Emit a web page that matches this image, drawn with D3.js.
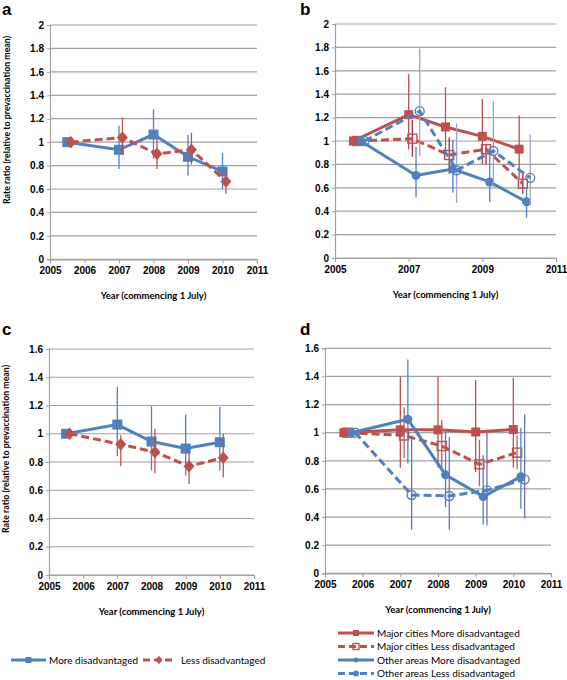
<!DOCTYPE html>
<html><head><meta charset="utf-8">
<script src="https://cdn.jsdelivr.net/npm/d3@7"></script>
<style>
html,body{margin:0;padding:0;background:#fff;}
svg{display:block;font-family:Lato,"Open Sans",sans-serif;}
</style></head>
<body>
<script>
// ---------- DATA ----------
const years = [2005.5, 2007, 2008, 2009, 2010];

// Panel a
const aMore = [1.00, 0.935, 1.065, 0.875, 0.75];
const aMoreLo = [null, 0.77, 0.86, 0.715, 0.60];
const aMoreHi = [null, 1.14, 1.28, 1.06, 0.91];
const aLess = [1.00, 1.04, 0.90, 0.935, 0.665];
const aLessLo = [null, 0.89, 0.77, 0.81, 0.56];
const aLessHi = [null, 1.21, 1.03, 1.08, 0.76];

// Panel b
const bMajMore = [1.00, 1.225, 1.12, 1.04, 0.93];
const bMajMoreLo = [null, 0.93, 0.88, 0.80, 0.68];
const bMajMoreHi = [null, 1.57, 1.46, 1.36, 1.22];
const bMajLess = [1.00, 1.02, 0.88, 0.93, 0.635];
const bMajLessLo = [null, 0.865, 0.72, 0.80, 0.55];
const bMajLessHi = [null, 1.18, 1.03, 0.97, 0.72];
const bOthMore = [1.00, 0.705, 0.76, 0.65, 0.48];
const bOthMoreLo = [null, 0.52, 0.56, 0.48, 0.345];
const bOthMoreHi = [null, 0.95, 1.01, 0.89, 0.60];
const bOthLess = [1.00, 1.255, 0.75, 0.915, 0.685];
const bOthLessLo = [null, 0.87, 0.47, 0.60, 0.45];
const bOthLessHi = [null, 1.79, 1.15, 1.345, 1.055];

// Panel c
const cMore = [1.00, 1.065, 0.945, 0.895, 0.94];
const cMoreLo = [null, 0.84, 0.74, 0.705, 0.74];
const cMoreHi = [null, 1.335, 1.195, 1.135, 1.19];
const cLess = [1.00, 0.925, 0.87, 0.77, 0.83];
const cLessLo = [null, 0.77, 0.72, 0.645, 0.69];
const cLessHi = [null, 0.99, 1.035, 0.87, 1.00];

// Panel d
const dMajMore = [1.00, 1.02, 1.02, 1.005, 1.022];
const dMajMoreLo = [null, 0.75, 0.75, 0.72, 0.75];
const dMajMoreHi = [null, 1.40, 1.40, 1.375, 1.39];
const dMajLess = [1.00, 0.98, 0.905, 0.775, 0.858];
const dMajLessLo = [null, 0.82, 0.735, 0.62, 0.74];
const dMajLessHi = [null, 1.18, 1.09, 0.95, 0.98];
const dOthMore = [1.00, 1.095, 0.70, 0.545, 0.687];
const dOthMoreLo = [null, 0.78, 0.47, 0.345, 0.46];
const dOthMoreHi = [null, 1.52, 1.02, 0.84, 1.035];
const dOthLess = [1.00, 0.557, 0.55, 0.59, 0.668];
const dOthLessLo = [null, 0.31, 0.31, 0.34, 0.39];
const dOthLessHi = [null, 0.98, 0.97, 1.00, 1.13];

const yTicksAB = [0, 0.2, 0.4, 0.6, 0.8, 1, 1.2, 1.4, 1.6, 1.8, 2];
const yTicksCD = [0, 0.2, 0.4, 0.6, 0.8, 1, 1.2, 1.4, 1.6];
const xTicksAll = [2005, 2006, 2007, 2008, 2009, 2010, 2011];
const xTicksB = [2005, 2007, 2009, 2011];

const yTitle = "Rate ratio (relative to prevaccination mean)";
const xTitle = "Year (commencing 1 July)";
const legendLeft = ["More disadvantaged", "Less disadvantaged"];
const legendRight = ["Major cities More disadvantaged", "Major cities Less disadvantaged",
  "Other areas More disadvantaged", "Other areas Less disadvantaged"];

// ---------- STYLE ----------
const BLUE = "#4F81BD", RED = "#C0504D";
const GRID = "#A0A0A0";

const svg = d3.select("body").append("svg").attr("width", 567).attr("height", 680);

function panel(cfg) {
  const x = d3.scaleLinear().domain([2005, 2011]).range([cfg.x0, cfg.x1]);
  const y = d3.scaleLinear().domain([0, cfg.ymax]).range([cfg.y0, cfg.y1]);
  const g = svg.append("g");
  // gridlines
  g.selectAll("line.grid").data(cfg.yTicks).join("line")
    .attr("x1", cfg.x0).attr("x2", cfg.x1)
    .attr("y1", d => y(d)).attr("y2", d => y(d))
    .attr("stroke", GRID).attr("stroke-width", 1.2);
  // y axis
  const ya = g.append("g").attr("transform", `translate(${cfg.x0},0)`)
    .call(d3.axisLeft(y).tickValues(cfg.yTicks).tickSize(3).tickPadding(3)
      .tickFormat(d => d3.format("~g")(d)));
  ya.select(".domain").attr("stroke", GRID).attr("stroke-width", 1.2);
  ya.selectAll(".tick line").attr("stroke", GRID);
  ya.selectAll("text").attr("font-weight", "bold").attr("font-size", 10).attr("fill", "#000");
  // x axis
  const xa = g.append("g").attr("transform", `translate(0,${cfg.y0})`)
    .call(d3.axisBottom(x).tickValues(cfg.xTicks).tickSize(4).tickPadding(4)
      .tickFormat(d3.format("d")));
  xa.select(".domain").attr("stroke", GRID).attr("stroke-width", 1.2);
  xa.selectAll(".tick line").attr("stroke", GRID);
  xa.selectAll("text").attr("font-weight", "bold").attr("font-size", 10).attr("fill", "#000");
  // titles
  g.append("text").text(cfg.letter)
    .attr("x", cfg.lx).attr("y", cfg.ly)
    .attr("font-family", "Liberation Sans, Arial, sans-serif")
    .attr("font-weight", "bold").attr("font-size", 17);
  if (cfg.yTitle) {
    g.append("text").text(yTitle)
      .attr("transform", `translate(${cfg.ytx},${cfg.yty}) rotate(-90)`)
      .attr("text-anchor", "middle").attr("font-weight", "bold").attr("font-size", 8.8);
  }
  g.append("text").text(xTitle)
    .attr("x", (cfg.x0 + cfg.x1) / 2).attr("y", cfg.y0 + 40)
    .attr("text-anchor", "middle").attr("font-weight", "bold").attr("font-size", 9.5);

  // series
  cfg.series.forEach(s => {
    const pts = years.map((yr, i) => ({ x: yr + s.off, v: s.vals[i], lo: s.lo[i], hi: s.hi[i] }));
    g.selectAll(null).data(pts.filter(p => p.lo != null)).join("line")
      .attr("x1", p => x(p.x)).attr("x2", p => x(p.x))
      .attr("y1", p => y(p.lo)).attr("y2", p => y(p.hi))
      .attr("stroke", s.ebColor).attr("stroke-width", 1.3);
    g.append("path").datum(pts)
      .attr("d", d3.line().x(p => x(p.x)).y(p => y(p.v)))
      .attr("fill", "none").attr("stroke", s.color).attr("stroke-width", 3)
      .attr("stroke-dasharray", s.dash ? "8,4" : null);
    pts.forEach(p => drawMarker(g, s.marker, x(p.x), y(p.v), s.color, s.msize));
  });
}

function drawMarker(g, type, cx, cy, color, sz) {
  if (type === "square") {
    g.append("rect").attr("x", cx - sz / 2).attr("y", cy - sz / 2).attr("width", sz).attr("height", sz).attr("fill", color);
  } else if (type === "osquare") {
    g.append("rect").attr("x", cx - sz / 2).attr("y", cy - sz / 2).attr("width", sz).attr("height", sz)
      .attr("fill", "none").attr("stroke", color).attr("stroke-width", 1.4);
  } else if (type === "diamond") {
    const w = sz / 2, h = sz / 2 + 0.8;
    g.append("path").attr("d", `M${cx},${cy - h}L${cx + w},${cy}L${cx},${cy + h}L${cx - w},${cy}Z`).attr("fill", color);
  } else if (type === "circle") {
    g.append("circle").attr("cx", cx).attr("cy", cy).attr("r", sz / 2).attr("fill", color);
  } else if (type === "ocircle") {
    g.append("circle").attr("cx", cx).attr("cy", cy).attr("r", sz / 2)
      .attr("fill", "none").attr("stroke", color).attr("stroke-width", 1.4);
  }
}

const twoSeries = (more, moreLo, moreHi, less, lessLo, lessHi) => [
  { vals: more, lo: moreLo, hi: moreHi, off: 0, color: BLUE, ebColor: BLUE, dash: false, marker: "square", msize: 10 },
  { vals: less, lo: lessLo, hi: lessHi, off: 0.1, color: RED, ebColor: RED, dash: true, marker: "diamond", msize: 11 }
];
const fourSeries = (mm, mmL, mmH, ml, mlL, mlH, om, omL, omH, ol, olL, olH, olColor, mlColor) => [
  { vals: mm, lo: mmL, hi: mmH, off: 0, color: RED, ebColor: RED, dash: false, marker: "square", msize: 9 },
  { vals: ml, lo: mlL, hi: mlH, off: 0.1, color: RED, ebColor: mlColor, dash: true, marker: "osquare", msize: 9 },
  { vals: om, lo: omL, hi: omH, off: 0.2, color: BLUE, ebColor: BLUE, dash: false, marker: "circle", msize: 9 },
  { vals: ol, lo: olL, hi: olH, off: 0.3, color: BLUE, ebColor: olColor, dash: true, marker: "ocircle", msize: 9 }
];

panel({ letter: "a", lx: 2, ly: 15, x0: 50, x1: 257, y0: 259.3, y1: 25, ymax: 2,
  yTicks: yTicksAB, xTicks: xTicksAll, yTitle: true, ytx: 10, yty: 120,
  series: twoSeries(aMore, aMoreLo, aMoreHi, aLess, aLessLo, aLessHi) });
panel({ letter: "b", lx: 300, ly: 15, x0: 335, x1: 556, y0: 258, y1: 24, ymax: 2,
  yTicks: yTicksAB, xTicks: xTicksB, yTitle: false,
  series: fourSeries(bMajMore, bMajMoreLo, bMajMoreHi, bMajLess, bMajLessLo, bMajLessHi,
    bOthMore, bOthMoreLo, bOthMoreHi, bOthLess, bOthLessLo, bOthLessHi, "#9EA1CC", "#9A2F4A") });
panel({ letter: "c", lx: 2, ly: 335, x0: 49, x1: 254, y0: 575, y1: 349, ymax: 1.6,
  yTicks: yTicksCD, xTicks: xTicksAll, yTitle: true, ytx: 9, yty: 449,
  series: twoSeries(cMore, cMoreLo, cMoreHi, cLess, cLessLo, cLessHi) });
panel({ letter: "d", lx: 300, ly: 335, x0: 325, x1: 551, y0: 573.3, y1: 348.3, ymax: 1.6,
  yTicks: yTicksCD, xTicks: xTicksAll, yTitle: false,
  series: fourSeries(dMajMore, dMajMoreLo, dMajMoreHi, dMajLess, dMajLessLo, dMajLessHi,
    dOthMore, dOthMoreLo, dOthMoreHi, dOthLess, dOthLessLo, dOthLessHi, "#6E6FB0", "#B5606E") });

// ---------- LEGENDS ----------
function legendEntry(x1, x2, yy, color, dash, marker, msize, label, tx) {
  svg.append("line").attr("x1", x1).attr("x2", x2).attr("y1", yy).attr("y2", yy)
    .attr("stroke", color).attr("stroke-width", 3).attr("stroke-dasharray", dash ? "7,4" : null);
  drawMarker(svg, marker, (x1 + x2) / 2, yy, color, msize);
  svg.append("text").text(label).attr("x", tx).attr("y", yy).attr("dy", "0.35em")
    .attr("font-size", 10).attr("fill", "#000");
}
legendEntry(11, 46, 660, BLUE, false, "square", 6, legendLeft[0], 49);
legendEntry(143, 175, 660, RED, true, "diamond", 7, legendLeft[1], 181);

const lrY = [633, 646.5, 660, 673.5];
const lrStyle = [[RED, false, "square", 6], [RED, true, "osquare", 6], [BLUE, false, "circle", 5], [BLUE, true, "circle", 6]];
legendRight.forEach((lab, i) => legendEntry(338, 374, lrY[i], lrStyle[i][0], lrStyle[i][1], lrStyle[i][2], lrStyle[i][3], lab, 377));
</script>
</body></html>
